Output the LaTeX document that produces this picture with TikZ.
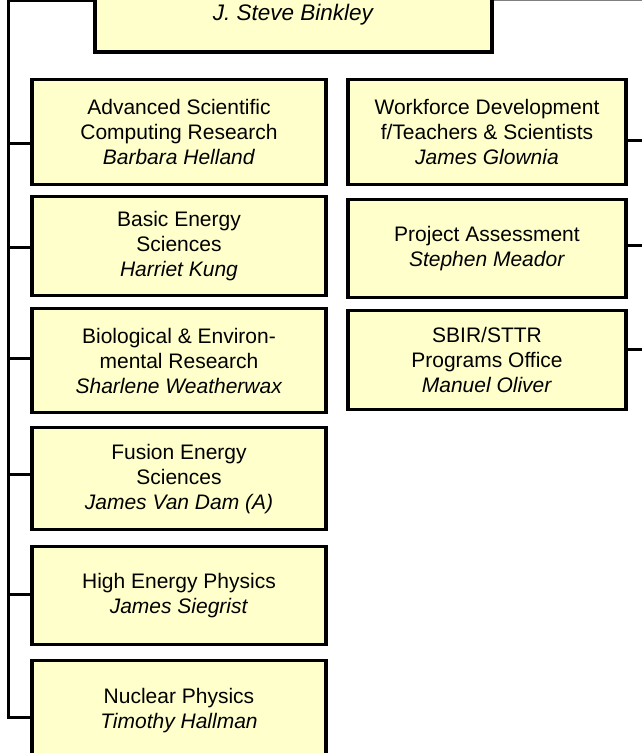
\documentclass[tikz,border=0pt]{standalone}
\usepackage{fontspec}
\setmainfont{Liberation Sans}
\definecolor{boxfill}{HTML}{FFFFCC}
\begin{document}
\begin{tikzpicture}[x=1pt, y=-1pt, line join=miter,
    unit/.style={draw=black, line width=3.2pt, fill=boxfill, align=center, inner sep=0pt,
      font=\fontsize{21}{25}\selectfont},
    left unit/.style={unit, anchor=north, minimum width=294pt},
    right unit/.style={unit, anchor=north, minimum width=278pt},
    link/.style={line width=3pt}]
  \useasboundingbox (0,0) rectangle (641,753);

  % 1. director (box runs off the top of the page)
  \node[unit, font=\fontsize{22.5}{27}\selectfont, minimum width=397pt, text height=117pt, text depth=32pt, anchor=base] (dir) at (293.5,20) {\textit{J. Steve Binkley}};

  % 2. program offices, left column
  \node[left unit, minimum height=105pt] (asc) at (179,78) {Advanced Scientific\\Computing Research\\\textit{Barbara Helland}};
  \node[left unit, minimum height=99pt] (bes) at (179,195) {Basic Energy\\Sciences\\\textit{Harriet Kung}};
  \node[left unit, minimum height=104pt] (ber) at (179,307) {Biological \& Environ-\\mental Research\\\textit{Sharlene Weatherwax}};
  \node[left unit, minimum height=102pt] (fes) at (179,426) {Fusion Energy\\Sciences\\\textit{James Van Dam (A)}};
  \node[left unit, minimum height=98pt] (hep) at (179,545) {High Energy Physics\\\textit{James Siegrist}};
  \node[left unit, minimum height=100pt] (np) at (179,659) {Nuclear Physics\\\textit{Timothy Hallman}};

  % 3. staff offices, right column
  \node[right unit, minimum height=105pt] (wdts) at (487,78) {Workforce Development\\f/Teachers \& Scientists\\\textit{James Glownia}};
  \node[right unit, minimum height=98pt] (pa) at (487,198) {Project Assessment\\\textit{Stephen Meador}};
  \node[right unit, minimum height=99pt] (sbir) at (487,309) {SBIR/STTR\\Programs Office\\\textit{Manuel Oliver}};

  % 4. trunks and branches
  \coordinate (ltop) at (8,0);
  \coordinate (rtop) at (643,0);
  \foreach \n/\s in {asc/-11.5, bes/-1.5, ber/2, fes/4, hep/1, np/-7}
    \path ([yshift=\s pt]\n.west) coordinate (c\n);
  \foreach \n/\s in {wdts/-8.5, pa/3, sbir/10.5}
    \path ([yshift=\s pt]\n.east) coordinate (c\n);

  \draw[link] (dir.west |- ltop) -- (ltop) -- (ltop |- cnp) -- (cnp);
  \foreach \n in {asc, bes, ber, fes, hep}
    \draw[link] (ltop |- c\n) -- (c\n);

  \draw[link, line width=1pt, gray] (dir.east |- rtop) -- (rtop);
  \draw[link] (rtop) -- (rtop |- csbir) -- (csbir);
  \foreach \n in {wdts, pa}
    \draw[link] (c\n) -- (rtop |- c\n);
\end{tikzpicture}
\end{document}
